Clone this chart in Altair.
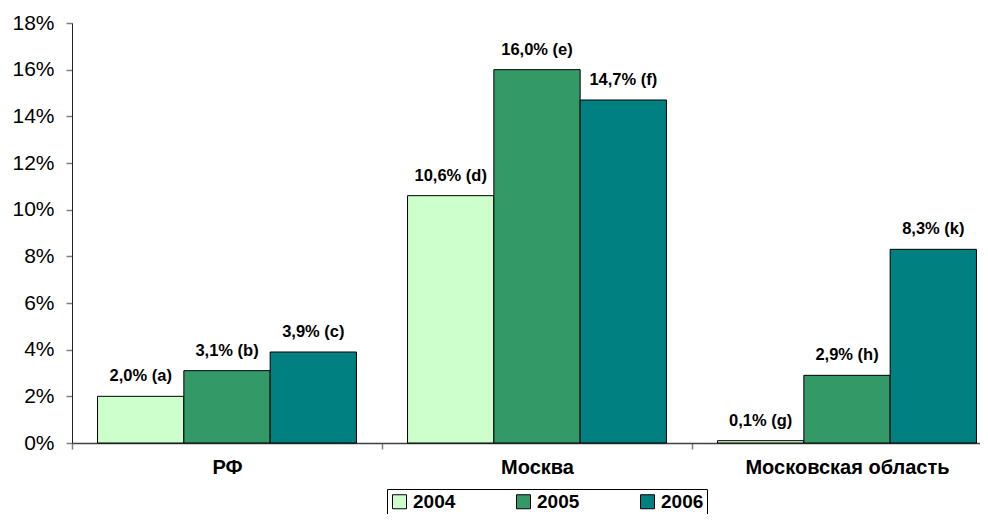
import altair as alt
import pandas as pd

categories = ["РФ", "Москва", "Московская область"]
years = ["2004", "2005", "2006"]
values_2004 = [2.0, 10.6, 0.1]
values_2005 = [3.1, 16.0, 2.9]
values_2006 = [3.9, 14.7, 8.3]
letters_2004 = ["a", "d", "g"]
letters_2005 = ["b", "e", "h"]
letters_2006 = ["c", "f", "k"]
colors = ["#CCFFCC", "#339966", "#008080"]
y_ticks = [0, 2, 4, 6, 8, 10, 12, 14, 16, 18]

rows = []
for yr, vals, lets in zip(years, [values_2004, values_2005, values_2006],
                          [letters_2004, letters_2005, letters_2006]):
    for cat, v, l in zip(categories, vals, lets):
        rows.append({
            "cat": cat, "year": yr, "value": v,
            "label": f"{v:.1f}".replace(".", ",") + "% (" + l + ")",
        })
df = pd.DataFrame(rows)

FONT = "Liberation Sans"

x = alt.X("cat:N", sort=categories,
          scale=alt.Scale(paddingInner=0, paddingOuter=0),
          axis=alt.Axis(title=None, labelAngle=0, tickBand="extent", labelLimit=400,
                        labelFontWeight="bold", labelFontSize=20, labelFont=FONT,
                        labelColor="black", labelPadding=8,
                        domainColor="#404040", domainWidth=1.5,
                        tickColor="#808080", tickSize=6, tickWidth=1.5))
xoff = alt.XOffset("year:N", sort=years,
                   scale=alt.Scale(paddingInner=0, paddingOuter=0.296))
y = alt.Y("value:Q", scale=alt.Scale(domain=[0, 18], nice=False),
          axis=alt.Axis(title=None, values=y_ticks, labelExpr="datum.value + '%'",
                        grid=False, labelFontSize=21, labelFont=FONT,
                        labelColor="black", labelPadding=12,
                        domainColor="#202020", tickColor="#808080",
                        tickSize=6, tickWidth=1.5))

bars = alt.Chart(df).mark_bar(stroke="black", strokeWidth=1).encode(
    x=x, xOffset=xoff, y=y,
    color=alt.Color("year:N", sort=years,
                    scale=alt.Scale(domain=years, range=colors),
                    legend=alt.Legend(title=None, orient="none", direction="horizontal",
                                      legendX=315, legendY=466,
                                      strokeColor="black", fillColor="white",
                                      padding=3, columnPadding=58,
                                      symbolType="square", symbolSize=196,
                                      symbolStrokeColor="black", symbolStrokeWidth=1,
                                      labelFontSize=19, labelFontWeight="bold",
                                      labelFont=FONT, labelColor="black",
                                      labelOffset=4)),
)

labels = alt.Chart(df).mark_text(
    fontSize=16.5, fontWeight="bold", font=FONT, color="black",
    baseline="middle", dy=-20,
).encode(x=x, xOffset=xoff, y=y, text="label:N")

chart = alt.layer(bars, labels).properties(
    width=930, height=420,
    autosize="none",
    padding={"left": 64, "top": 15, "right": -22, "bottom": 71},
    background="white",
).configure_view(stroke=None)

chart.save("out.html", embed_options={"renderer": "svg", "actions": False})
